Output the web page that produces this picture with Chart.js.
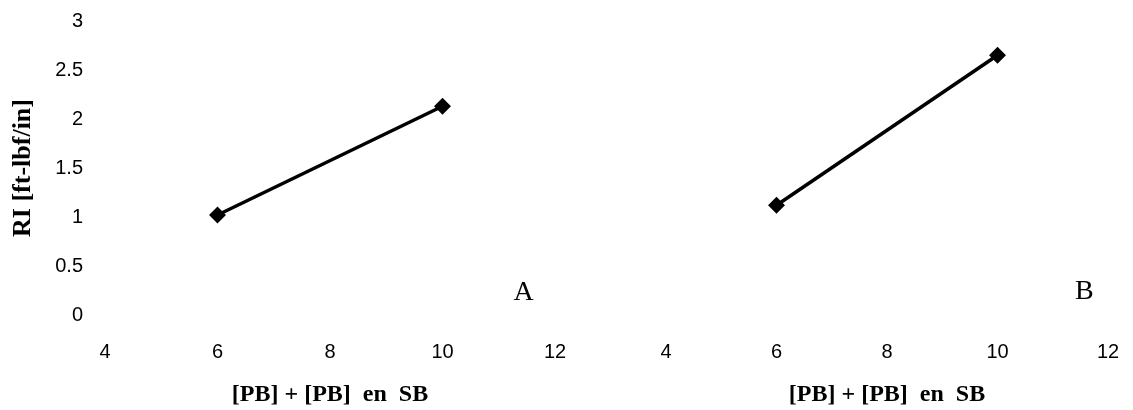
<!DOCTYPE html>
<html>
<head>
<meta charset="utf-8">
<script src="https://cdn.jsdelivr.net/npm/chart.js@4.4.1/dist/chart.umd.min.js"></script>
<style>
  html, body { margin: 0; padding: 0; background: #fff; overflow: hidden; }
  #wrap { position: relative; width: 1133px; height: 410px; }
  #boxA { position: absolute; left: 0; top: 0; width: 600px; height: 410px; }
  #boxB { position: absolute; left: 600px; top: 0; width: 533px; height: 410px; }
</style>
</head>
<body>
<div id="wrap">
  <div id="boxA"><canvas id="chartA"></canvas></div>
  <div id="boxB"><canvas id="chartB"></canvas></div>
</div>
<script>
// PB content (x) and impact resistance RI for the two blends
const pbLevels = [6, 10];
const riPanelA = [1.02, 2.13];
const riPanelB = [1.12, 2.65];

const xTitle = '[PB] + [PB]  en  SB';
const yTitle = 'RI [ft-lbf/in]';
const panelLetters = ['A', 'B'];

const tickFont = { family: '"Liberation Sans", Arial, sans-serif', size: 20 };
const xTitleFont = { family: '"Liberation Serif", "Times New Roman", serif', size: 24, weight: 'bold' };
const yTitleFont = { family: '"Liberation Serif", "Times New Roman", serif', size: 26, weight: 'bold' };

// Writes the panel letter at a position given in data units
const panelLetterPlugin = {
  id: 'panelLetter',
  afterDatasetsDraw(chart, args, opts) {
    const { ctx, scales } = chart;
    const px = scales.x.getPixelForValue(opts.x);
    const py = scales.y.getPixelForValue(opts.y);
    ctx.save();
    ctx.fillStyle = '#000';
    ctx.font = '28px "Liberation Serif", "Times New Roman", serif';
    ctx.textAlign = 'center';
    ctx.textBaseline = 'middle';
    ctx.fillText(opts.text, px, py);
    ctx.restore();
  }
};

// Hidden grid; the (invisible) tick length only spaces the labels from the plot
function hiddenGrid(len) {
  return { display: false, drawTicks: true, tickLength: len, tickColor: 'rgba(0,0,0,0)' };
}

function makeChart(canvasId, values, letter, letterPos, showY, padding) {
  return new Chart(document.getElementById(canvasId), {
    type: 'scatter',
    data: {
      datasets: [{
        data: pbLevels.map((x, i) => ({ x, y: values[i] })),
        showLine: true,
        borderColor: '#000',
        backgroundColor: '#000',
        borderWidth: 3.5,
        pointStyle: 'rectRot',
        pointRadius: 6,
        pointHoverRadius: 6
      }]
    },
    options: {
      responsive: true,
      maintainAspectRatio: false,
      animation: false,
      layout: { padding },
      plugins: {
        legend: { display: false },
        tooltip: { enabled: false },
        panelLetter: { text: letter, x: letterPos[0], y: letterPos[1] }
      },
      scales: {
        x: {
          type: 'linear',
          min: 4, max: 12,
          border: { display: false },
          grid: hiddenGrid(25),
          ticks: { stepSize: 2, color: '#000', font: tickFont, padding: 0, maxRotation: 0 },
          title: { display: true, text: xTitle, color: '#000', font: xTitleFont, padding: { top: 0, bottom: 1 } },
          afterFit(scale) { scale.height = 95; }
        },
        y: {
          display: showY,
          min: 0, max: 3,
          border: { display: false },
          grid: hiddenGrid(22),
          ticks: { stepSize: 0.5, color: '#000', font: tickFont, padding: 0, callback: v => String(v) },
          title: { display: true, text: yTitle, color: '#000', font: yTitleFont, padding: { top: 8, bottom: 0 } },
          afterFit(scale) { if (showY) scale.width = 105; }
        }
      }
    },
    plugins: [panelLetterPlugin]
  });
}

makeChart('chartA', riPanelA, panelLetters[0], [11.44, 0.225], true, { left: 0, right: 45, top: 21, bottom: 0 });
makeChart('chartB', riPanelB, panelLetters[1], [11.57, 0.235], false, { left: 66, right: 25, top: 21, bottom: 0 });
</script>
</body>
</html>
